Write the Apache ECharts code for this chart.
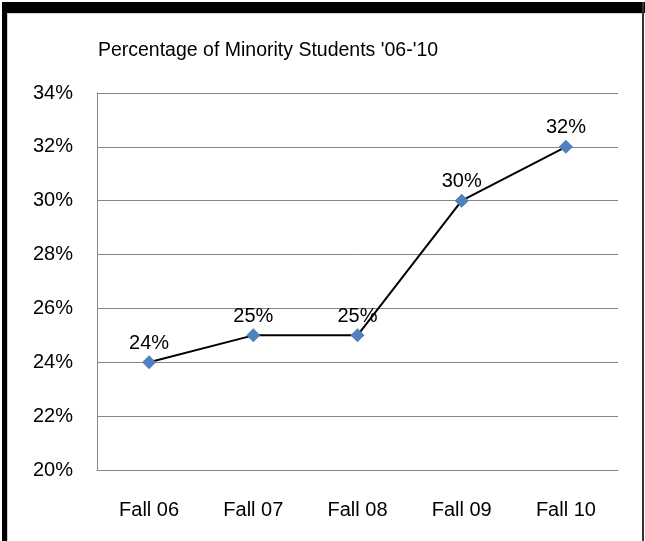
<!DOCTYPE html>
<html>
<head>
<meta charset="utf-8">
<script src="https://cdn.jsdelivr.net/npm/echarts@6/dist/echarts.min.js"></script>
<style>
html,body{margin:0;padding:0;background:#fff;}
#chart{width:645px;height:541px;}
</style>
</head>
<body>
<div id="chart"></div>
<script>
const titleText = "Percentage of Minority Students '06-'10";
const categories = ['Fall 06', 'Fall 07', 'Fall 08', 'Fall 09', 'Fall 10'];
const minorityPct = [24, 25, 25, 30, 32];
const yMin = 20, yMax = 34, yStep = 2;

const FONT = '"Liberation Sans", Arial, sans-serif';
const chart = echarts.init(document.getElementById('chart'), null, {renderer: 'canvas'});
chart.setOption({
  animation: false,
  backgroundColor: '#ffffff',
  title: {
    text: titleText,
    left: 263,
    top: 36,
    textAlign: 'center',
    textStyle: {fontFamily: FONT, fontSize: 19.5, fontWeight: 'normal', color: '#000'}
  },
  grid: {left: 97, right: 27, top: 93, bottom: 71, containLabel: false},
  xAxis: {
    type: 'category',
    data: categories,
    boundaryGap: true,
    axisLine: {show: true, lineStyle: {color: '#868686', width: 1}},
    axisTick: {show: false},
    axisLabel: {fontFamily: FONT, fontSize: 20, color: '#000', margin: 30}
  },
  yAxis: {
    type: 'value',
    min: yMin, max: yMax, interval: yStep,
    axisLine: {show: true, lineStyle: {color: '#868686', width: 1}},
    axisTick: {show: false},
    splitLine: {show: true, lineStyle: {color: '#868686', width: 1}},
    axisLabel: {fontFamily: FONT, fontSize: 20, color: '#000', margin: 24, formatter: '{value}%'}
  },
  series: [{
    type: 'line',
    data: minorityPct,
    lineStyle: {color: '#000', width: 2},
    symbol: 'diamond',
    symbolSize: 14,
    itemStyle: {color: '#4F81BD'},
    label: {show: true, position: 'top', distance: 2, fontFamily: FONT, fontSize: 20, color: '#000', formatter: '{c}%'}
  }],
  graphic: [
    {type: 'rect', shape: {x: 2, y: 2, width: 643, height: 11}, style: {fill: '#000'}, silent: true},
    {type: 'rect', shape: {x: 2, y: 2, width: 5, height: 539}, style: {fill: '#000'}, silent: true},
    {type: 'rect', shape: {x: 642, y: 2, width: 2, height: 539}, style: {fill: '#333'}, silent: true},
    {type: 'rect', shape: {x: 7, y: 13, width: 635, height: 1}, style: {fill: '#d0d0d0'}, silent: true},
    {type: 'rect', shape: {x: 7, y: 13, width: 1, height: 528}, style: {fill: '#d0d0d0'}, silent: true}
  ]
});
</script>
</body>
</html>
